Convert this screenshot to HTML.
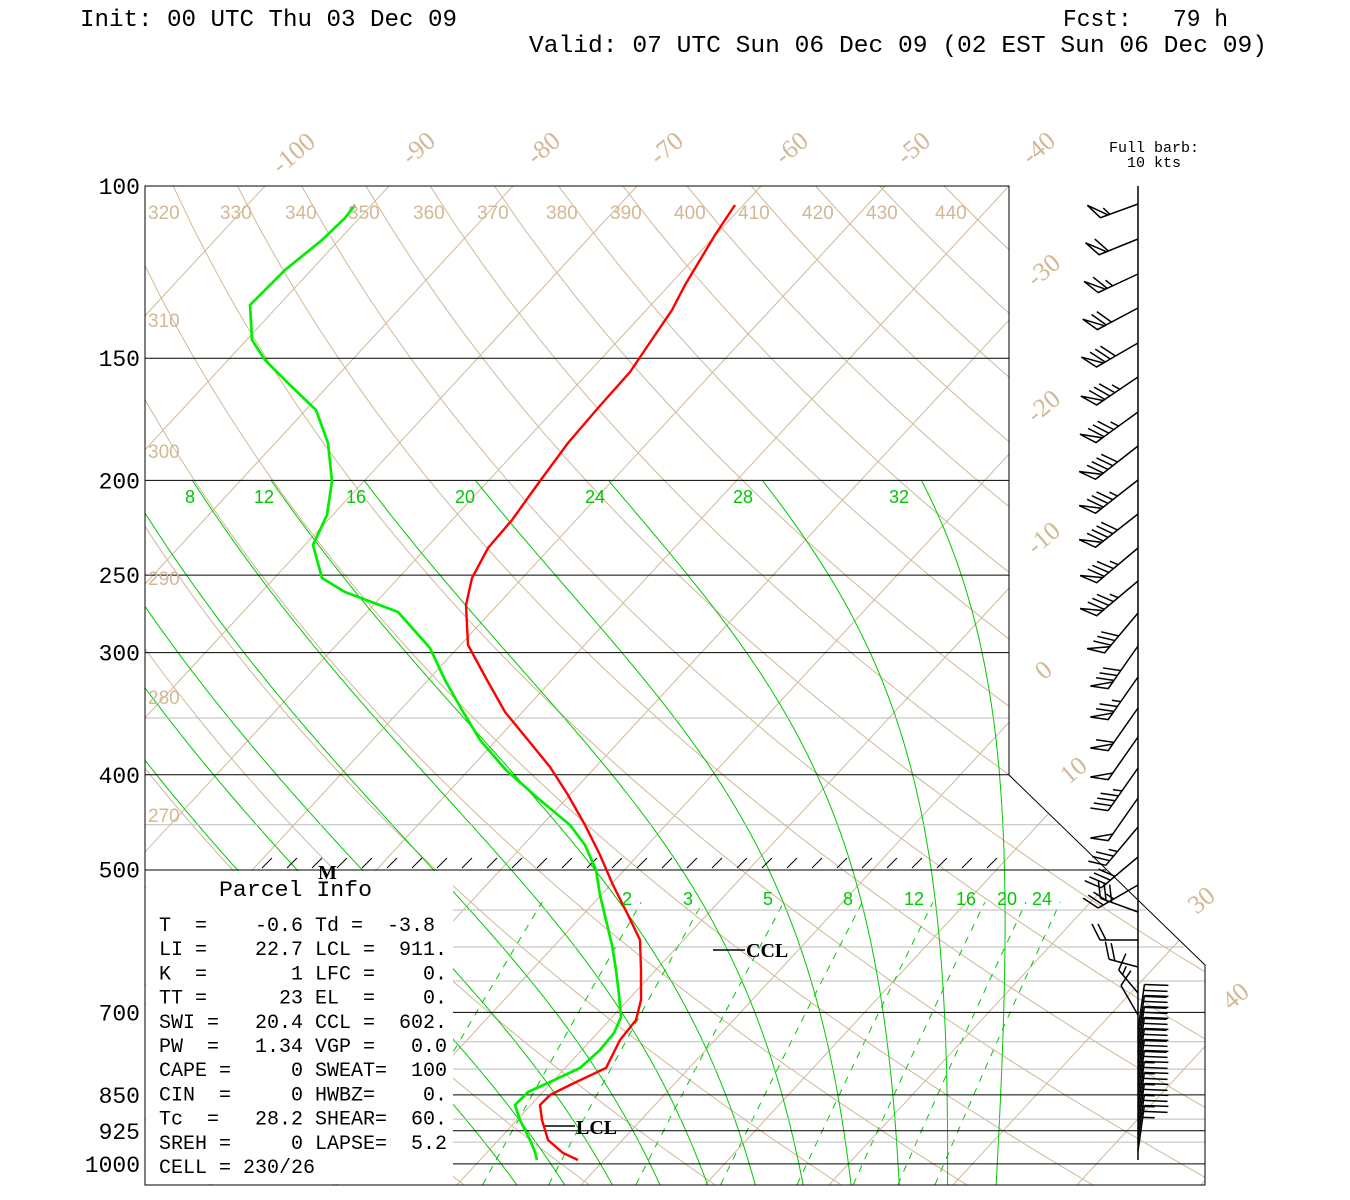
<!DOCTYPE html>
<html><head><meta charset="utf-8"><style>
html,body{margin:0;padding:0;background:#fff;}
svg{display:block;}
</style></head><body>
<svg id="s" width="1350" height="1200" xmlns="http://www.w3.org/2000/svg"></svg>
<script>
const Y=p=>186+424.7*Math.log(p/100);
const X=(T,y)=>1009+12.4*(T+40)-0.925*(y-186);
const TAN="#d2b896", GRN="#00c800", GRY="#bbbbbb";
let s='';
s+='<defs><clipPath id="cAll"><polygon points="145,186 1009,186 1009,775 1205,965 1205,1185 145,1185"/></clipPath>'+
'<clipPath id="cMoist"><polygon points="145,481 1009,481 1009,775 1205,965 1205,1185 145,1185"/></clipPath>'+
'<clipPath id="cMix"><rect x="453" y="900" width="760" height="285"/></clipPath></defs>';
s+='<g clip-path="url(#cAll)" stroke="'+TAN+'" stroke-width="1" fill="none">';
for(let T=-150;T<=60;T+=10){s+=`<line x1="${X(T,1185)}" y1="1185" x2="${X(T,186)}" y2="186"/>`;}
for(let th=220;th<=460;th+=10){let pts=[];for(let p=1050;p>=95;p-=10){let T=th*Math.pow(p/1000,0.2857)-273.15;let y=Y(p);pts.push(X(T,y).toFixed(1)+','+y.toFixed(1));}s+=`<polyline points="${pts.join(' ')}"/>`;}
s+='</g>';
function es(Tc){return 6.112*Math.exp(17.67*Tc/(Tc+243.5));}
function dTdp(T,p){const Rd=287,cp=1005,Lv=2.5e6,eps=0.622;let Tc=T-273.15;let e=es(Tc);let rs=eps*e/(p-e);return (Rd*T+Lv*rs)/(p*(cp+Lv*Lv*rs*eps/(Rd*T*T)));}
s+='<g clip-path="url(#cMoist)" stroke="'+GRN+'" stroke-width="1" fill="none">';
for(let tw=-8;tw<=32;tw+=4){let pts=[];let T=tw+273.15;let p=1000;
 let down=[];let T2=T;for(let pp=1000;pp<1060;pp+=2){let y=Y(pp);down.push(X(T2-273.15,y).toFixed(1)+','+y.toFixed(1));T2+=dTdp(T2,pp)*2;}
 down.reverse();pts=down;
 for(p=1000;p>=190;p-=2){let y=Y(p);pts.push(X(T-273.15,y).toFixed(1)+','+y.toFixed(1));T-=dTdp(T,p)*2;}
 s+=`<polyline points="${pts.join(' ')}"/>`;}
s+='</g>';
s+='<g clip-path="url(#cMix)" stroke="'+GRN+'" stroke-width="1" fill="none" stroke-dasharray="7,7">';
for(const w of [1,2,3,5,8,12,16,20,24]){let pts=[];for(let p=1050;p>=540;p-=10){let e=w*p/(622+w);let l=Math.log(e/6.112);let Td=243.5*l/(17.67-l);let y=Y(p);pts.push(X(Td,y).toFixed(1)+','+y.toFixed(1));}s+=`<polyline points="${pts.join(' ')}"/>`;}
s+='</g>';
for(const p of [350,450]){let y=Y(p);let xr=p==350?1009:1009+(y-775)*1.02;s+=`<line x1="145" y1="${y}" x2="${xr}" y2="${y}" stroke="${GRY}"/>`;}
for(const p of [550,600,650,750,800,900,950]){let y=Y(p);let xr=y<965?1009+(y-775)*1.02:1205;s+=`<line x1="453" y1="${y}" x2="${xr}" y2="${y}" stroke="${GRY}"/>`;}
for(const p of [150,200,250,300,400]){let y=Y(p);s+=`<line x1="145" y1="${y}" x2="1009" y2="${y}" stroke="#000"/>`;}
s+=`<line x1="145" y1="870" x2="${1009+(870-775)*1.02}" y2="870" stroke="#000"/>`;
for(const p of [700,850,925,1000]){let y=Y(p);s+=`<line x1="453" y1="${y}" x2="1205" y2="${y}" stroke="#000"/>`;}
s+='<rect x="146" y="871" width="307" height="313" fill="#fff"/>';
s+='<polygon points="145,186 1009,186 1009,775 1205,965 1205,1185 145,1185" fill="none" stroke="#000"/>';
for(let x=262;x<1000;x+=25){s+=`<line x1="${x}" y1="868" x2="${x+10}" y2="858" stroke="#000"/>`;}
const red=[[735,205],[715,235],[700,260],[685,285],[672,310],[655,335],[630,372],[598,408],[568,443],[540,481],[512,520],[488,548],[472,578],[466,605],[468,645],[487,680],[505,712],[528,740],[550,767],[568,795],[585,825],[600,855],[613,885],[628,915],[640,940],[641,970],[641,1000],[636,1020],[620,1040],[606,1068],[570,1085],[550,1095],[540,1105],[542,1120],[548,1140],[563,1153],[578,1160]];
const grn=[[355,205],[345,218],[322,240],[285,270],[250,305],[252,340],[265,360],[290,385],[316,410],[328,443],[332,481],[327,515],[313,545],[322,578],[345,592],[398,612],[430,648],[445,680],[462,710],[480,740],[506,770],[540,800],[570,825],[585,845],[596,870],[600,895],[606,920],[612,945],[616,970],[619,995],[621,1017],[614,1033],[600,1050],[580,1068],[550,1082],[528,1092],[515,1105],[520,1120],[530,1140],[535,1152],[537,1160]];
s+=`<polyline points="${red.map(a=>a.join(',')).join(' ')}" fill="none" stroke="#ff0000" stroke-width="2.4"/>`;
s+=`<polyline points="${grn.map(a=>a.join(',')).join(' ')}" fill="none" stroke="#00ee00" stroke-width="2.7"/>`;
s+='<line x1="545" y1="1126" x2="575" y2="1126" stroke="#000" stroke-width="1.5"/><text x="576" y="1134" font-family="Liberation Serif,serif" font-weight="bold" font-size="20">LCL</text>';
s+='<line x1="713" y1="950" x2="745" y2="950" stroke="#000" stroke-width="1.5"/><text x="746" y="957" font-family="Liberation Serif,serif" font-weight="bold" font-size="20">CCL</text>';
s+='<text x="318" y="879" font-family="Liberation Serif,serif" font-weight="bold" font-size="20">M</text>';
s+='<line x1="1138" y1="186" x2="1138" y2="1160" stroke="#000" stroke-width="1.5"/>';
function barb(y,dir,spd,L,F,tilt){L=L||48;F=F||18;if(tilt===undefined)tilt=0.5;let r=dir*Math.PI/180;let sx=Math.sin(r),sy=-Math.cos(r);let x0=1138,ex=x0+sx*L,ey=y+sy*L;
 let o=`<line x1="${x0}" y1="${y}" x2="${ex}" y2="${ey}"/>`;let px=-sy,py=sx;let fx=px+tilt*sx,fy=py+tilt*sy;let fl=Math.hypot(fx,fy);fx/=fl;fy/=fl;
 let pos=0,v=Math.round(spd/5)*5;
 while(v>=50){let ax=ex-sx*pos,ay=ey-sy*pos;let bx=ex-sx*(pos+8),by=ey-sy*(pos+8);o+=`<polygon points="${ax},${ay} ${ax+fx*F},${ay+fy*F} ${bx},${by}" fill="#fff"/>`;pos+=10;v-=50;}
 while(v>=10){let ax=ex-sx*pos,ay=ey-sy*pos;o+=`<line x1="${ax}" y1="${ay}" x2="${ax+fx*F}" y2="${ay+fy*F}"/>`;pos+=6;v-=10;}
 if(v>=5){if(pos==0)pos=6;let ax=ex-sx*pos,ay=ey-sy*pos;o+=`<line x1="${ax}" y1="${ay}" x2="${ax+fx*F/2}" y2="${ay+fy*F/2}"/>`;}
 return o;}
s+='<g stroke="#000" stroke-width="1.5" fill="none">';
const B=[[204,250,55,40],[239,248,60,42],[274,245,65,44],[308,242,70,46],[343,240,80,48],[377,236,85,50],[412,234,85,52],[446,232,90,54],[480,232,85,54],[514,232,90,54],[548,230,85,54],[581,230,85,54],[613,220,80,52],[646,215,80,52],[677,215,75,52],[708,215,60,52],[737,215,50,52],[768,215,45,52],[798,215,50,52],[827,220,35,50],[857,230,40,48],[885,240,35,46],[912,290,30,40],[940,270,20,38],[967,285,20,30],[993,320,15,30],[1015,330,10,34]];
for(const b of B)s+=barb(b[0],b[1],b[2],b[3]);
for(let y=1030;y<=1160;y+=11){s+=barb(y,8,y<1090?30:25,46,24,0.1);}
s+='</g>';
const mono='font-family="Liberation Mono,monospace"';
s+=`<text x="80" y="26" ${mono} font-size="24" textLength="377" lengthAdjust="spacingAndGlyphs">Init: 00 UTC Thu 03 Dec 09</text>`;
s+=`<text x="1063" y="26" ${mono} font-size="24" xml:space="preserve" textLength="165" lengthAdjust="spacingAndGlyphs">Fcst:   79 h</text>`;
s+=`<text x="529" y="52" ${mono} font-size="24" textLength="738" lengthAdjust="spacingAndGlyphs">Valid: 07 UTC Sun 06 Dec 09 (02 EST Sun 06 Dec 09)</text>`;
s+=`<text x="1154" y="152" ${mono} font-size="15" text-anchor="middle">Full barb:</text><text x="1154" y="167" ${mono} font-size="15" text-anchor="middle">10 kts</text>`;
for(const [p,t] of [[100,'100'],[150,'150'],[200,'200'],[250,'250'],[300,'300'],[400,'400'],[500,'500'],[700,'700'],[850,'850'],[925,'925'],[1000,'1000']]){s+=`<text x="140" y="${Y(p)+8}" ${mono} font-size="23" text-anchor="end">${t}</text>`;}
const sans='font-family="Liberation Sans,sans-serif"';
[[320,148],[330,220],[340,285],[350,348],[360,413],[370,477],[380,546],[390,610],[400,674],[410,738],[420,802],[430,866],[440,935]].forEach(([t,x])=>{s+=`<text x="${x}" y="219" ${sans} font-size="19" fill="${TAN}">${t}</text>`;});
[[310,320],[300,451],[290,578],[280,697],[270,815]].forEach(([t,y])=>{s+=`<text x="148" y="${y+7}" ${sans} font-size="19" fill="${TAN}">${t}</text>`;});
[[-100,295,155],[-90,420,150],[-80,545,150],[-70,668,150],[-60,793,150],[-50,915,150],[-40,1040,150],[-30,1045,272],[-20,1045,408],[-10,1045,540],[0,1045,672],[10,1075,772],[30,1203,902],[40,1237,998]].forEach(([t,x,y])=>{s+=`<text x="${x}" y="${y}" font-family="Liberation Serif,serif" font-size="26" fill="${TAN}" text-anchor="middle" dominant-baseline="middle" transform="rotate(-40 ${x} ${y})">${t}</text>`;});
[[8,190],[12,264],[16,356],[20,465],[24,595],[28,743],[32,899]].forEach(([t,x])=>{s+=`<text x="${x}" y="503" ${sans} font-size="18" fill="${GRN}" text-anchor="middle">${t}</text>`;});
[[2,627],[3,688],[5,768],[8,848],[12,914],[16,966],[20,1007],[24,1042]].forEach(([t,x])=>{s+=`<text x="${x}" y="905" ${sans} font-size="18" fill="${GRN}" text-anchor="middle">${t}</text>`;});
s+=`<text x="219" y="896" ${mono} font-size="22" textLength="153" lengthAdjust="spacingAndGlyphs">Parcel Info</text>`;
const rows=["T  =    -0.6 Td =  -3.8","LI =    22.7 LCL =  911.","K  =       1 LFC =    0.","TT =      23 EL  =    0.","SWI =   20.4 CCL =  602.","PW  =   1.34 VGP =   0.0","CAPE =     0 SWEAT=  100","CIN  =     0 HWBZ=    0.","Tc  =   28.2 SHEAR=  60.","SREH =     0 LAPSE=  5.2","CELL = 230/26"];
rows.forEach((r,i)=>{s+=`<text x="159" y="${931+i*24.2}" ${mono} font-size="20" xml:space="preserve">${r}</text>`;});
document.getElementById('s').innerHTML=s;
</script>
</body></html>
